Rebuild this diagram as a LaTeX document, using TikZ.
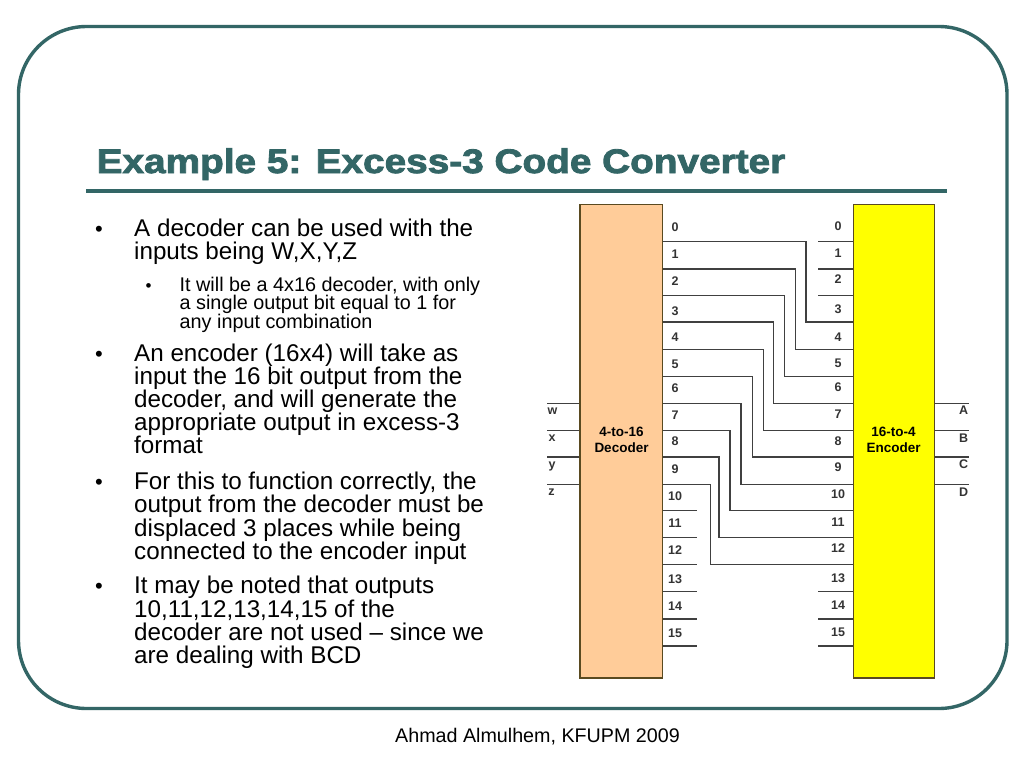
\documentclass[tikz,border=0pt]{standalone}
\usepackage{fontspec}
\setmainfont{Liberation Sans}
\newfontfamily\titlefont[BoldFeatures={FakeStretch=1.14,FakeBold=2.5}]{Liberation Sans}
\definecolor{teal1}{HTML}{336666}
\definecolor{decfill}{HTML}{FFCC99}
\definecolor{wirec}{HTML}{404040}
\definecolor{boxedge}{HTML}{5A4A20}
\definecolor{encfill}{HTML}{FFFF00}
\tikzset{
  x=1pt,y=-1pt,
  block/.style={draw=boxedge,line width=1.2pt,inner sep=0pt,anchor=north west},
  wire/.style={draw=wirec,line width=1.2pt},
  pinlab/.style={font=\bfseries\fontsize{12.5}{14}\selectfont,text=black!80,inner sep=0pt},
  blocklab/.style={font=\bfseries\fontsize{13.5}{16}\selectfont,align=center,inner sep=0pt},
  bul/.style={anchor=base west,inner sep=0pt,font=\fontsize{22}{22}\selectfont},
  body/.style={anchor=base west,inner sep=0pt,font=\fontsize{24.2}{24.2}\selectfont},
  bsmall/.style={anchor=base west,inner sep=0pt,font=\fontsize{19.8}{19.8}\selectfont},
}
\begin{document}
\begin{tikzpicture}
\useasboundingbox (0,0) rectangle (1024,768);
\fill[white] (0,0) rectangle (1024,768);
\draw[teal1,line width=3.4pt,rounded corners=68pt] (18.5,26.5) rectangle (1007,708.5);
\node[anchor=base west,inner sep=0pt,text=teal1,font=\titlefont\bfseries\fontsize{34}{36}\selectfont] (title) at (96.5,173) {Example 5: Excess-3 Code Converter};
\coordinate (ruleL) at (86,191);
\coordinate (ruleR) at (947,191);
\draw[teal1,line width=3.6pt] (ruleL) -- (ruleR);
% text
\foreach \n/\y/\t in {a/236/{A decoder can be used with the},b/259/{inputs being W,X,Y,Z},
 c/361/{An encoder (16x4) will take as},d/384/{input the 16 bit output from the},e/407/{decoder, and will generate the},f/430/{appropriate output in excess-3},g/453/{format},
 h/489/{For this to function correctly, the},i/512/{output from the decoder must be},j/536/{displaced 3 places while being},k/559/{connected to the encoder input},
 l/593/{It may be noted that outputs},m/617/{10,11,12,13,14,15 of the},n/640/{decoder are not used – since we},o/663/{are dealing with BCD}}
  \node[body] (t\n) at (134,\y) {\t};
\foreach \n/\y in {a/236,c/361,h/489,l/593}
  \node[bul] (b\n) at (95,\y) {•};
\node[bul,font=\fontsize{17}{17}\selectfont] (bs) at (145.5,291) {•};
\foreach \n/\y/\t in {a/291/{It will be a 4x16 decoder, with only},b/309/{a single output bit equal to 1 for},c/328/{any input combination}}
  \node[bsmall] (s\n) at (179.5,\y) {\t};
% blocks
\node[block,fill=decfill,minimum width=82.3pt,minimum height=473.4pt] (dec) at (579.4,204) {};
\node[block,fill=encfill,minimum width=81.2pt,minimum height=473.4pt] (enc) at (852.6,204) {};
\node[blocklab] (dl) at (621.5,439.5) {4-to-16\\Decoder};
\node[blocklab] (el) at (893.5,439.5) {16-to-4\\Encoder};
% pin coordinates
\foreach \i/\y in {0/241.7,1/269,2/295.7,3/322,4/349.3,5/376.3,6/403.3,7/430.3,8/457,9/484.3,10/510.3,11/537.7,12/564.7,13/591.7,14/619,15/646}{
  \coordinate (dp\i) at (dec.north east |- 0,\y);
  \coordinate (ep\i) at (enc.north west |- 0,\y);
}
% decoder i -> encoder i+3
\foreach \i/\j/\vx in {0/3/806,1/4/795.3,2/5/784.3,3/6/773.7,4/7/763.3,5/8/752.7,6/9/741,7/10/730,8/11/719,9/12/710.7}{
  \coordinate (v\i) at (\vx,0);
  \draw[wire] (dp\i) -- (v\i |- dp\i) -- (v\i |- ep\j) -- (ep\j);
}
% unused stubs
\foreach \i in {10,...,15}{
  \coordinate (ds\i) at (697,0);
  \draw[wire] (dp\i) -- (ds\i |- dp\i);
}
\foreach \i in {0,1,2,13,14,15}{
  \coordinate (es\i) at (818.3,0);
  \draw[wire] (es\i |- ep\i) -- (ep\i);
}
% inputs, outputs
\foreach \i in {6,7,8,9}{
  \coordinate (il\i) at (547,0);
  \coordinate (ol\i) at (969,0);
  \draw[wire] (il\i |- dp\i) -- (dec.west |- dp\i);
  \draw[wire] (enc.east |- dp\i) -- (ol\i |- dp\i);
}
% labels
\foreach \i/\y in {0/227,1/254,2/281,3/311,4/337,5/364,6/388,7/415,8/441,9/469,10/496,11/523,12/550,13/579,14/606,15/633}
  \node[pinlab] (dn\i) at (675,\y) {\i};
\foreach \i/\y in {0/226,1/253,2/279,3/309,4/337,5/363,6/387,7/414,8/441,9/467,10/494,11/522,12/548,13/578,14/605,15/632}
  \node[pinlab] (en\i) at (838,\y) {\i};
\foreach \t/\x/\y in {w/552.5/411,x/552/438,y/552/466,z/551.5/492,A/963.5/410,B/963.5/438,C/963.5/464,D/963.5/492}
  \node[pinlab,font=\bfseries\fontsize{12.5}{14}\selectfont] (io\t) at (\x,\y) {\t};
\node[anchor=base,inner sep=0pt,font=\fontsize{19.7}{20}\selectfont] (foot) at (537.5,742) {Ahmad Almulhem, KFUPM 2009};
\end{tikzpicture}
\end{document}
